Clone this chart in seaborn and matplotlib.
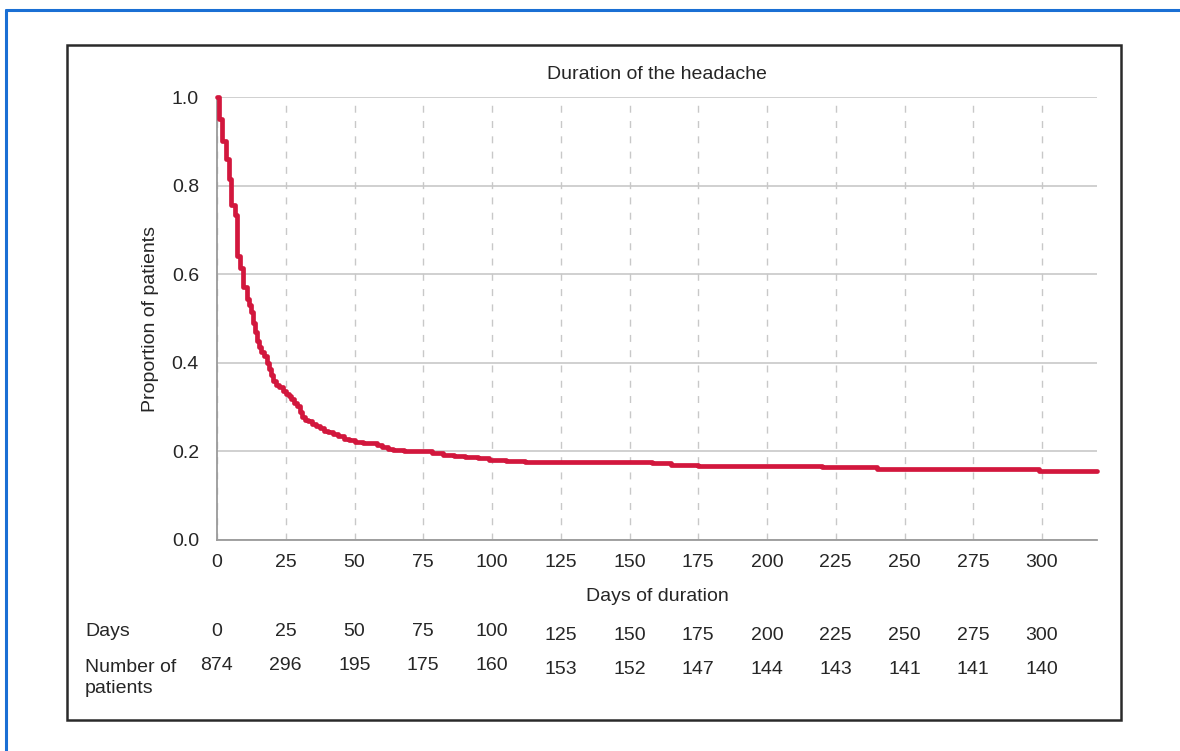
import pandas as pd
import seaborn as sns
from matplotlib import pyplot as plt
from matplotlib.patches import Rectangle
from matplotlib.lines import Line2D

# Kaplan-Meier style curve
days = [0, 0.8, 2, 3.3, 4.2, 5, 6.6, 7.2, 8.4, 9.6,
        10.8, 11.5, 12.2, 13, 13.8, 14.5, 15.2, 16, 17, 18,
        18.8, 19.5, 20.5, 21.5, 22.5, 24, 25, 26, 27, 28,
        29, 30, 31, 32, 33, 34.5, 36, 37.5, 39, 40.5,
        42, 44, 46, 48, 50, 53, 56, 58, 60, 62,
        64, 68, 73, 78, 82, 86, 90, 95, 99, 105,
        112, 120, 135, 150, 158, 165, 175, 185, 200, 220,
        240, 270, 299, 320]
proportion = [1.0, 0.95, 0.90, 0.86, 0.815, 0.757, 0.733, 0.64, 0.615, 0.572,
              0.545, 0.53, 0.515, 0.49, 0.47, 0.45, 0.435, 0.425, 0.415, 0.40,
              0.385, 0.372, 0.358, 0.35, 0.345, 0.336, 0.33, 0.325, 0.318, 0.31,
              0.303, 0.29, 0.278, 0.272, 0.268, 0.262, 0.257, 0.252, 0.247, 0.243,
              0.239, 0.234, 0.229, 0.225, 0.222, 0.22, 0.218, 0.214, 0.211, 0.206,
              0.204, 0.202, 0.200, 0.196, 0.193, 0.190, 0.187, 0.184, 0.181, 0.178,
              0.177, 0.176, 0.176, 0.175, 0.173, 0.169, 0.168, 0.167, 0.166, 0.165,
              0.161, 0.161, 0.156, 0.156]

# table under the chart
table_days = [0, 25, 50, 75, 100, 125, 150, 175, 200, 225, 250, 275, 300]
n_patients = [874, 296, 195, 175, 160, 153, 152, 147, 144, 143, 141, 141, 140]

df = pd.DataFrame({'days': days, 'proportion': proportion})

sns.set_style('white')
plt.rcParams['font.family'] = ['Liberation Sans', 'DejaVu Sans']
text_col = '#262626'
fs = 14

W, H = 1180, 751
fig = plt.figure(figsize=(W / 100, H / 100), dpi=100)

# outer blue frame (top + left only visible) and inner black box
fig.add_artist(Line2D([6 / W, 1], [1 - 10 / H, 1 - 10 / H], color='#1a6fd4', lw=2.2))
fig.add_artist(Line2D([6 / W, 6 / W], [0, 1 - 10 / H], color='#1a6fd4', lw=2.2))
fig.add_artist(Rectangle((67 / W, 1 - 720 / H), (1121 - 67) / W, (720 - 45) / H,
                         fill=False, edgecolor='#2a2a2a', lw=1.8))

ax = fig.add_axes([217 / W, 1 - 540 / H, (1097 - 217) / W, (540 - 97) / H])
sns.lineplot(data=df, x='days', y='proportion', estimator=None, sort=False,
             drawstyle='steps-post', color='#d2173d', lw=3.4, ax=ax,
             clip_on=False, zorder=5)

ax.set_xlim(0, 320)
ax.set_ylim(0, 1.0)
ax.set_xticks(table_days)
ax.set_yticks([0, 0.2, 0.4, 0.6, 0.8, 1.0])
ax.set_yticklabels(['0.0', '0.2', '0.4', '0.6', '0.8', '1.0'])
ax.tick_params(axis='both', length=0, labelsize=fs, colors=text_col)
ax.tick_params(axis='y', pad=13)
ax.tick_params(axis='x', pad=10)

ax.xaxis.grid(True, linestyle=(0, (5, 6)), color='#c8c8c8', lw=1)
ax.yaxis.grid(True, linestyle='-', color='#c8c8c8', lw=1.2)
for s in ['top', 'right']:
    ax.spines[s].set_visible(False)
for s in ['left', 'bottom']:
    ax.spines[s].set_color('#9a9a9a')
    ax.spines[s].set_linewidth(1.3)

ax.set_title('Duration of the headache', fontsize=fs, color=text_col, pad=13)
ax.set_xlabel('Days of duration', fontsize=fs, color=text_col, labelpad=12)
ax.set_ylabel('Proportion of patients', fontsize=fs, color=text_col, labelpad=9)

# numbers-at-risk table
trans = ax.get_xaxis_transform()
fig.text(85 / W, 1 - 631 / H, 'Days', fontsize=fs, color=text_col, va='center')
fig.text(85 / W, 1 - 678 / H, 'Number of\npatients', fontsize=fs, color=text_col,
         va='center', linespacing=1.25)
for d, n in zip(table_days, n_patients):
    dy = 0 if d <= 100 else 4
    ax.annotate(str(d), (d, 0), xycoords=trans, xytext=(0, -(631 + dy - 540) * 0.72),
                textcoords='offset points', ha='center', va='center',
                fontsize=fs, color=text_col, annotation_clip=False)
    ax.annotate(str(n), (d, 0), xycoords=trans, xytext=(0, -(666 + dy - 540) * 0.72),
                textcoords='offset points', ha='center', va='center',
                fontsize=fs, color=text_col, annotation_clip=False)

fig.savefig('out.png', dpi=100)
